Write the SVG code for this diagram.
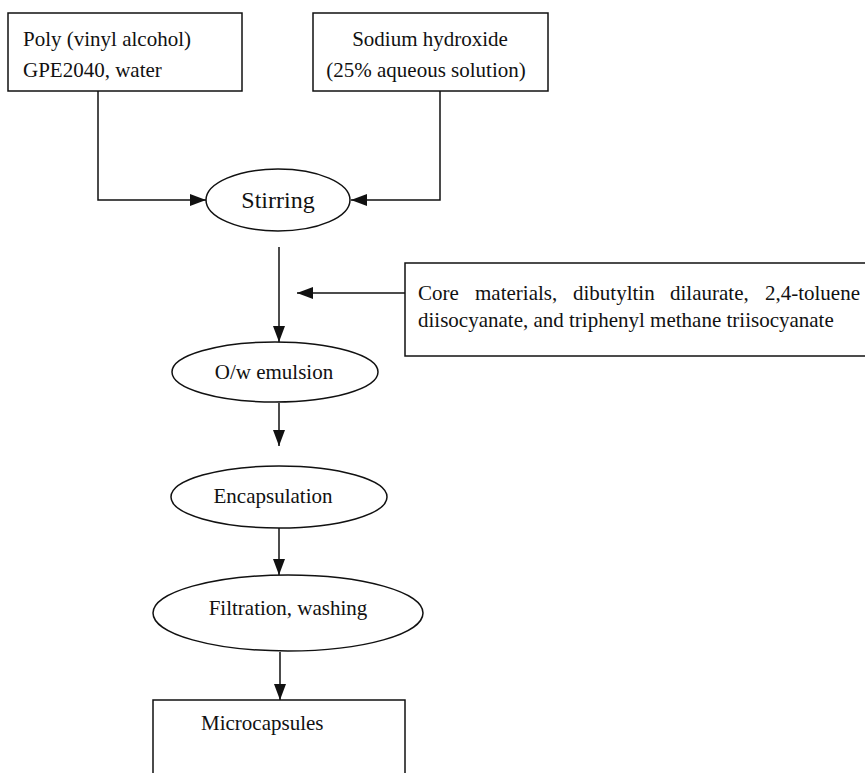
<svg xmlns="http://www.w3.org/2000/svg" width="865" height="773" viewBox="0 0 865 773">
<style>
.box{fill:#fff;stroke:#111;stroke-width:1.5}
.ell{fill:#fff;stroke:#111;stroke-width:1.5}
.t{font-family:"Liberation Serif","Times New Roman",serif;font-size:21px;fill:#111}
.c{text-anchor:middle}
.conn{fill:none;stroke:#111;stroke-width:1.5}
</style>
<defs>
<marker id="ah" markerUnits="userSpaceOnUse" markerWidth="16" markerHeight="12" refX="16" refY="6" orient="auto">
<path d="M0,0 L16,6 L0,12 z" fill="#111"/>
</marker>
</defs>
<rect width="865" height="773" fill="#fff"/>
<g id="connectors">
<path class="conn" d="M98,91 V200 H206" marker-end="url(#ah)"/>
<path class="conn" d="M440,91 V200 H351" marker-end="url(#ah)"/>
<path class="conn" d="M279,247 V342" marker-end="url(#ah)"/>
<path class="conn" d="M405,293 H297" marker-end="url(#ah)"/>
<path class="conn" d="M279,403 V446" marker-end="url(#ah)"/>
<path class="conn" d="M279,528 V575" marker-end="url(#ah)"/>
<path class="conn" d="M280,652 V700" marker-end="url(#ah)"/>
</g>
<g id="pva">
<rect class="box" x="8" y="13" width="234" height="78"/>
<text class="t" x="23" y="46">Poly (vinyl alcohol)</text>
<text class="t" x="23" y="77">GPE2040, water</text>
</g>
<g id="naoh">
<rect class="box" x="313" y="13" width="235" height="78"/>
<text class="t c" x="430" y="46">Sodium hydroxide</text>
<text class="t c" x="426" y="77">(25% aqueous solution)</text>
</g>
<g id="stirring">
<ellipse class="ell" cx="278" cy="200" rx="72" ry="31"/>
<text class="t c" x="278" y="208" style="font-size:24px">Stirring</text>
</g>
<g id="core">
<rect class="box" x="405" y="263" width="470" height="93"/>
<text class="t" y="300"><tspan x="418">Core</tspan><tspan x="475">materials,</tspan><tspan x="573">dibutyltin</tspan><tspan x="670">dilaurate,</tspan><tspan x="860" text-anchor="end">2,4-toluene</tspan></text>
<text class="t" x="418" y="327">diisocyanate, and triphenyl methane triisocyanate</text>
</g>
<g id="emulsion">
<ellipse class="ell" cx="275" cy="372" rx="103" ry="30"/>
<text class="t c" x="274" y="379">O/w emulsion</text>
</g>
<g id="encapsulation">
<ellipse class="ell" cx="279" cy="497" rx="108" ry="31"/>
<text class="t c" x="273" y="503">Encapsulation</text>
</g>
<g id="filtration">
<ellipse class="ell" cx="288" cy="613" rx="135" ry="38"/>
<text class="t c" x="288" y="615">Filtration, washing</text>
</g>
<g id="microcapsules">
<rect class="box" x="153" y="700" width="252" height="90"/>
<text class="t" x="201" y="730">Microcapsules</text>
</g>
</svg>
